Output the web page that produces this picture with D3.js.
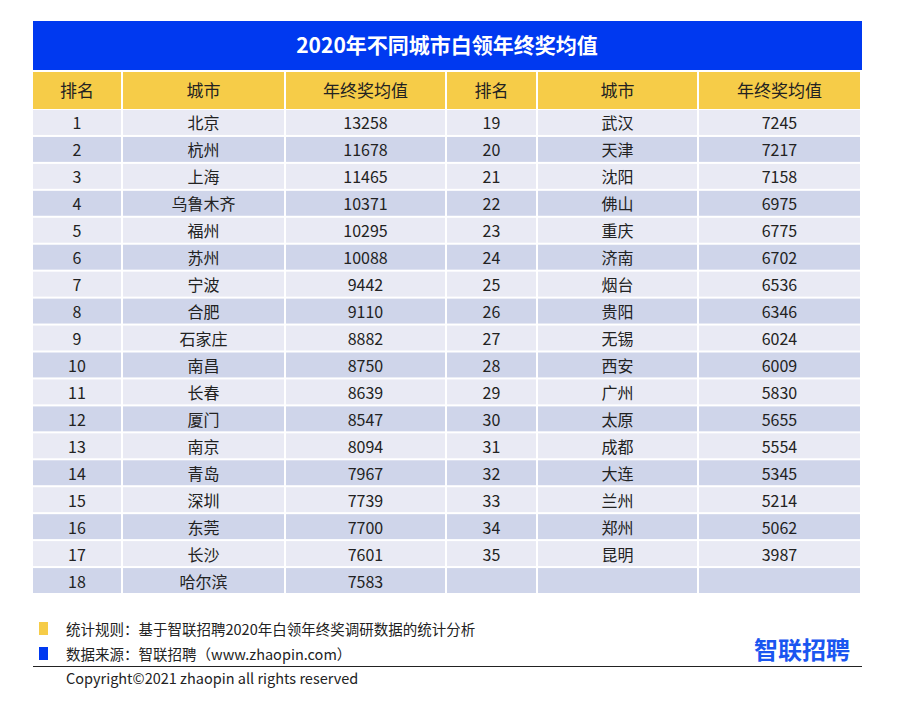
<!DOCTYPE html>
<html><head><meta charset="utf-8">
<style>body{margin:0;background:#fff;font-family:"Noto Sans CJK SC","Noto Sans",sans-serif;}</style>
</head>
<body>
<script src="https://cdn.jsdelivr.net/npm/d3@7"></script>
<script>
const title = "2020年不同城市白领年终奖均值";
const headers = ["排名", "城市", "年终奖均值", "排名", "城市", "年终奖均值"];
const cities = ["北京","杭州","上海","乌鲁木齐","福州","苏州","宁波","合肥","石家庄","南昌","长春","厦门","南京","青岛","深圳","东莞","长沙","哈尔滨",
  "武汉","天津","沈阳","佛山","重庆","济南","烟台","贵阳","无锡","西安","广州","太原","成都","大连","兰州","郑州","昆明"];
const bonus = [13258,11678,11465,10371,10295,10088,9442,9110,8882,8750,8639,8547,8094,7967,7739,7700,7601,7583,
  7245,7217,7158,6975,6775,6702,6536,6346,6024,6009,5830,5655,5554,5345,5214,5062,3987];
const notes = ["统计规则：基于智联招聘2020年白领年终奖调研数据的统计分析", "数据来源：智联招聘（www.zhaopin.com）"];
const copyright = "Copyright©2021 zhaopin all rights reserved";

const W = 897, H = 702;
const svg = d3.select("body").append("svg").attr("width", W).attr("height", H);

// column edges
const edges = [33, 123, 286, 447, 538, 699, 862];
const nRows = 18;
const y = d3.scaleBand().domain(d3.range(nRows)).range([110, 593]).paddingInner(0.075);

svg.append("rect").attr("x", 33).attr("y", 21).attr("width", 829).attr("height", 49).attr("fill", "#0039f0");
svg.append("text").attr("x", 447).attr("y", 53).attr("text-anchor", "middle")
  .attr("fill", "#fff").attr("font-size", 21).attr("font-weight", "bold").text(title);

// header
headers.forEach((h, i) => {
  svg.append("rect").attr("x", edges[i]).attr("y", 72).attr("width", edges[i+1] - edges[i] - 2).attr("height", 37).attr("fill", "#f6cc48");
  svg.append("text").attr("x", (edges[i] + edges[i+1] - 2) / 2).attr("y", 97).attr("text-anchor", "middle")
    .attr("font-size", 17).attr("fill", "#222").text(h);
});

// body
for (let r = 0; r < nRows; r++) {
  const fill = r % 2 === 0 ? "#e9eaf4" : "#cfd5ea";
  for (let c = 0; c < 6; c++) {
    svg.append("rect").attr("x", edges[c]).attr("y", y(r)).attr("width", edges[c+1] - edges[c] - 2)
      .attr("height", y.bandwidth()).attr("fill", fill);
  }
  [[r, 0], [r + nRows, 3]].forEach(([idx, c0]) => {
    if (idx >= cities.length) return;
    const vals = [idx + 1, cities[idx], bonus[idx]];
    vals.forEach((v, k) => {
      const c = c0 + k;
      svg.append("text").attr("x", (edges[c] + edges[c+1] - 2) / 2).attr("y", y(r) + y.bandwidth() / 2 + 7)
        .attr("text-anchor", "middle").attr("font-size", 16).attr("fill", "#222").text(v);
    });
  });
}

// footer
const noteColors = ["#f6cc48", "#0039f0"];
notes.forEach((t, i) => {
  const yy = 630 + i * 25;
  svg.append("rect").attr("x", 39).attr("y", yy - 8).attr("width", 9).attr("height", 13).attr("fill", noteColors[i]);
  svg.append("text").attr("x", 66).attr("y", yy + 5).attr("font-size", 14.5).attr("fill", "#222").text(t);
});
svg.append("text").attr("x", 850).attr("y", 659).attr("text-anchor", "end").attr("font-size", 24)
  .attr("font-weight", "bold").attr("fill", "#1a56f0").text("智联招聘");
svg.append("line").attr("x1", 33).attr("x2", 862).attr("y1", 666.5).attr("y2", 666.5).attr("stroke", "#222").attr("stroke-width", 1);
svg.append("text").attr("x", 66).attr("y", 684).attr("font-size", 14.5).attr("fill", "#222").text(copyright);
</script>
</body></html>
